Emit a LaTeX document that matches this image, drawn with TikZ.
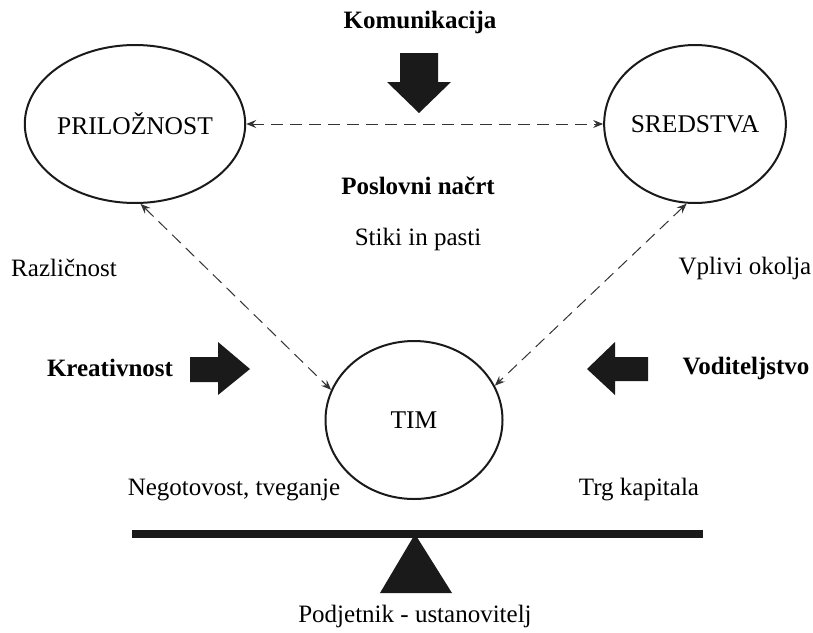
\documentclass[tikz,border=0pt]{standalone}
\usepackage{fontspec}
\setmainfont{Liberation Serif}
\usetikzlibrary{arrows.meta,shapes.geometric}
\definecolor{ink}{HTML}{1A1A1A}
\definecolor{dashc}{HTML}{333333}
\tikzset{
  circ/.style={ellipse,draw=ink,line width=2pt,inner sep=0pt,minimum width=177pt,minimum height=158pt,font=\fontsize{25.5}{30}\selectfont},
  lbl/.style={inner sep=0pt,font=\fontsize{25}{30}\selectfont},
  blbl/.style={inner sep=0pt,font=\fontsize{25}{30}\selectfont\bfseries},
  dlink/.style={draw=dashc,line width=1pt,dash pattern=on 12pt off 7pt,{Stealth[length=10pt,width=8pt,inset=3.5pt]}-{Stealth[length=10pt,width=8pt,inset=3.5pt]}},
  blk/.style={fill=ink,draw=none}
}
\begin{document}
\begin{tikzpicture}[x=1pt,y=-1pt]
\useasboundingbox (0,0) rectangle (813,632);
% circles
\node[circ] (p) at (135,124) {PRILOŽNOST};
\node[circ] (s) at (695,124) {SREDSTVA};
\node[circ] (t) at (414,420) {TIM};
% dashed connectors
\draw[dlink] (p.east) -- (s.west);
\draw[dlink] (p.-86) -- (t.160);
\draw[dlink] (s.-96) -- (t.23);
% labels
\node[blbl] (kom) at (420,22) {Komunikacija};
\node[blbl] (pos) at (418,186) {Poslovni načrt};
\node[lbl] (sti) at (418,239) {Stiki in pasti};
\node[lbl] (raz) at (64,268) {Različnost};
\node[lbl] (vpl) at (745,268) {Vplivi okolja};
\node[blbl] (kre) at (110,368) {Kreativnost};
\node[blbl] (vod) at (746,368) {Voditeljstvo};
\node[lbl] (neg) at (234,490) {Negotovost, tveganje};
\node[lbl] (trg) at (639,490) {Trg kapitala};
\node[lbl] (pod) at (415,616) {Podjetnik - ustanovitelj};
% block arrows
\fill[blk] (400,53) -- (438,53) -- (438,82) -- (451,82) -- (419,113) -- (387,82) -- (400,82) -- cycle;
\fill[blk] (190,357) -- (218,357) -- (218,342) -- (250,369) -- (218,395) -- (218,382) -- (190,382) -- cycle;
\fill[blk] (648,357) -- (615,357) -- (615,342) -- (587,369) -- (615,395) -- (615,381) -- (648,381) -- cycle;
% balance
\fill[blk] (132,530) rectangle (703,537.5);
\fill[blk] (415,534) -- (452,593) -- (380,593) -- cycle;
\end{tikzpicture}
\end{document}
